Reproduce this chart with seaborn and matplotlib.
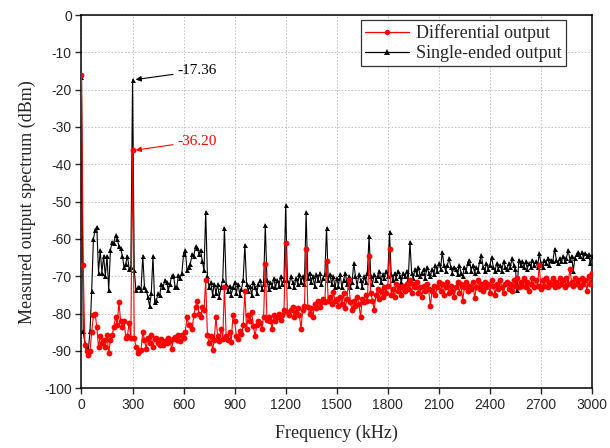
"""Measured output spectrum: differential vs single-ended output."""
import matplotlib
matplotlib.use("Agg")
import matplotlib.pyplot as plt
from matplotlib.lines import Line2D
import numpy as np
import pandas as pd
import seaborn as sns

# frequency grid, kHz (10 kHz bins)
freq_khz = np.arange(0, 3001, 10)

# Single-ended output (dBm), one row per 100 kHz
single_ended = [
    -16.5, -84.7, -88.0, -89.0, -90.0, -84.7, -74.0, -60.0, -57.6, -56.7,
    -69.0, -63.0, -69.0, -64.5, -70.0, -64.5, -73.7, -63.0, -60.8, -61.0,
    -59.0, -59.9, -62.0, -62.5, -64.5, -67.5, -66.6, -64.5, -68.0, -67.5,
    -17.36, -68.4, -73.7, -73.0, -72.8, -73.7, -64.5, -72.8, -73.7, -75.5,
    -78.0, -74.6, -64.5, -77.0, -76.4, -74.6, -75.0, -72.0, -72.8, -71.0,
    -71.5, -73.7, -72.0, -70.0, -69.6, -72.8, -72.8, -69.6, -70.4, -69.0,
    -64.0, -63.0, -68.4, -67.5, -66.6, -64.0, -64.5, -62.0, -62.5, -64.0,
    -63.0, -66.0, -68.4, -52.7, -70.0, -73.0, -71.5, -75.0, -72.0, -74.5,
    -72.0, -75.5, -73.0, -71.0, -57.0, -72.0, -74.0, -72.5, -75.0, -73.0,
    -71.5, -74.5, -72.0, -75.0, -73.5, -71.0, -61.5, -72.0, -74.0, -72.5,
    -75.0, -71.5, -73.0, -74.5, -72.0, -71.0, -73.5, -72.0, -56.3, -71.0,
    -73.5, -71.5, -72.5, -70.5, -73.0, -71.0, -72.5, -70.0, -72.0, -71.0,
    -51.0, -71.0, -72.5, -70.0, -71.5, -73.0, -70.5, -72.0, -69.5, -71.5,
    -70.0, -72.0, -52.9, -70.5, -69.0, -71.5, -70.0, -72.5, -69.5, -71.0,
    -69.0, -72.0, -70.5, -69.5, -57.0, -71.0, -69.5, -72.0, -70.0, -73.0,
    -70.4, -72.5, -69.5, -73.0, -71.0, -69.0, -72.0, -70.0, -73.0, -71.5,
    -66.5, -70.0, -72.5, -69.5, -71.0, -73.0, -70.0, -71.5, -69.0, -59.2,
    -70.0, -72.0, -69.5, -71.0, -70.0, -68.5, -71.5, -69.5, -70.5, -68.5,
    -70.0, -58.0, -69.5, -71.0, -69.0, -70.5, -68.5, -70.0, -71.5, -69.0,
    -70.0, -68.5, -71.0, -60.8, -69.0, -70.5, -68.0, -69.5, -67.5, -70.0,
    -69.0, -68.0, -70.5, -67.5, -69.0, -70.0, -68.0, -69.5, -67.0, -68.5,
    -66.5, -68.0, -63.4, -67.0, -68.5, -67.0, -65.2, -67.5, -69.0, -67.5,
    -68.0, -69.5, -67.0, -69.0, -70.0, -67.5, -68.5, -66.5, -65.6, -68.5,
    -67.0, -69.0, -67.5, -68.5, -66.0, -64.3, -67.5, -68.5, -66.5, -68.0,
    -67.0, -64.8, -67.5, -68.5, -66.5, -68.0, -67.0, -68.5, -66.0, -67.5,
    -68.0, -66.5, -67.5, -65.2, -67.0, -68.0, -73.8, -65.5, -67.0, -66.0,
    -67.5, -66.0, -68.0, -66.5, -67.5, -65.5, -67.0, -66.0, -67.5, -63.8,
    -66.5, -67.5, -65.5, -66.5, -65.0, -67.0, -65.5, -66.0, -62.6, -65.5,
    -66.5, -65.0, -66.0, -64.5, -66.0, -65.0, -63.0, -65.5, -64.5, -68.5,
    -65.0, -64.0, -63.4, -64.5, -63.5, -65.0, -63.8, -64.5, -64.0, -66.5,
    -64.5,
]

# Differential output (dBm), one row per 100 kHz
differential = [
    -16.0, -67.0, -88.5, -90.0, -91.0, -90.0, -85.0, -80.4, -80.0, -83.6,
    -89.0, -86.0, -88.0, -87.0, -89.0, -85.8, -90.6, -87.0, -85.8, -83.6,
    -80.9, -83.0, -76.9, -82.0, -83.6, -82.0, -86.4, -86.0, -82.4, -86.5,
    -36.2, -86.4, -89.0, -90.6, -90.0, -89.7, -85.0, -87.0, -89.5, -86.4,
    -88.0, -85.8, -89.0, -86.8, -86.4, -88.0, -88.5, -86.8, -88.5, -87.4,
    -88.0, -86.4, -87.4, -89.5, -86.8, -86.2, -87.0, -85.8, -87.4, -85.8,
    -86.4, -84.8, -81.0, -83.0, -83.0, -84.0, -80.4, -78.2, -76.6, -80.0,
    -81.0, -78.2, -79.0, -71.0, -85.8, -88.0, -86.0, -89.8, -87.0, -81.0,
    -86.0, -87.4, -84.0, -86.8, -72.8, -86.0, -87.0, -85.0, -87.5, -80.4,
    -81.9, -86.0, -86.8, -84.6, -85.5, -83.0, -74.0, -84.0, -80.4, -82.0,
    -79.6, -83.4, -86.0, -83.0, -82.0, -82.4, -84.0, -81.0, -66.8, -81.6,
    -81.0, -82.0, -84.0, -80.4, -82.0, -81.0, -80.0, -81.6, -80.4, -79.0,
    -61.0, -79.6, -80.4, -79.0, -78.2, -81.0, -79.6, -78.6, -80.4, -84.0,
    -79.0, -78.0, -62.6, -78.2, -80.0, -78.6, -81.0, -77.3, -78.6, -76.6,
    -78.2, -77.0, -76.2, -77.0, -66.0, -76.6, -75.5, -77.5, -74.2, -76.5,
    -76.0, -78.0, -75.5, -77.5, -74.5, -78.5, -76.0, -71.0, -77.0, -79.0,
    -76.5, -78.0, -75.5, -77.5, -80.9, -76.0, -77.0, -75.0, -76.5, -64.6,
    -74.5, -76.5, -79.0, -75.0, -73.5, -76.0, -74.0, -75.5, -73.0, -74.5,
    -72.5, -62.8, -75.0, -73.5, -75.5, -72.0, -74.0, -73.0, -75.0, -72.5,
    -74.0, -72.0, -73.5, -71.0, -74.5, -72.0, -73.0, -71.5, -74.5, -73.0,
    -75.5, -72.5, -74.0, -72.0, -73.5, -78.0, -74.0, -72.5, -75.0, -73.0,
    -71.5, -74.0, -72.0, -75.0, -73.0, -71.5, -74.5, -72.5, -74.0, -75.5,
    -73.0, -71.5, -74.5, -72.0, -76.7, -73.0, -71.5, -74.0, -72.5, -73.5,
    -71.5, -75.8, -73.0, -71.0, -73.5, -72.0, -74.0, -71.5, -73.0, -72.0,
    -74.5, -71.0, -72.5, -75.0, -72.0, -73.5, -71.0, -73.0, -74.5, -72.0,
    -71.5, -73.5, -72.0, -74.0, -71.0, -72.5, -70.5, -73.0, -71.5, -72.5,
    -70.5, -73.0, -71.5, -74.0, -72.0, -70.5, -73.0, -71.0, -72.5, -67.0,
    -73.5, -71.0, -72.5, -70.5, -73.0, -71.5, -72.0, -70.5, -73.0, -71.5,
    -72.5, -70.5, -72.0, -71.0, -73.0, -70.5, -72.0, -68.0, -71.5, -72.5,
    -70.5, -72.0, -71.0, -73.0, -70.5, -72.0, -71.0, -74.0, -70.0, -72.0,
    -69.0,
]

SERIES = ["Differential output", "Single-ended output"]
COLORS = {"Differential output": "#FF0000", "Single-ended output": "#000000"}
MARKERS = {"Differential output": "o", "Single-ended output": "^"}

sns.set_style("ticks")
plt.rcParams.update({"font.size": 10, "axes.unicode_minus": False})
plt.rcParams["font.family"] = ["Liberation Sans", "DejaVu Sans"]
SERIF = ["Liberation Serif", "DejaVu Serif"]

df = pd.concat(
    [
        pd.DataFrame({"freq": freq_khz, "dbm": single_ended, "series": SERIES[1]}),
        pd.DataFrame({"freq": freq_khz, "dbm": differential, "series": SERIES[0]}),
    ],
    ignore_index=True,
)

fig = plt.figure(figsize=(6.1, 4.48), dpi=100)
ax = fig.add_axes([0.1336, 0.1333, 0.8369, 0.8332])

# black first so the red trace sits on top
for name, ms in [(SERIES[1], 3.6), (SERIES[0], 4.2)]:
    sns.lineplot(
        data=df[df["series"] == name],
        x="freq",
        y="dbm",
        color=COLORS[name],
        marker=MARKERS[name],
        markersize=ms,
        markeredgewidth=0,
        linewidth=0.8,
        ax=ax,
        legend=False,
        zorder=3,
    )

ax.set_xlim(0, 3000)
ax.set_ylim(-100, 0)
ax.set_xticks(np.arange(0, 3001, 300))
ax.set_yticks(np.arange(-100, 1, 10))
ax.grid(True, color="#bdbdbd", linestyle=(0, (2, 2)), linewidth=0.6, zorder=0)
ax.set_axisbelow(True)
ax.tick_params(direction="out", length=4, width=1.0, labelsize=10, pad=3)
for sp in ax.spines.values():
    sp.set_linewidth(1.1)
    sp.set_color("black")

ax.set_xlabel("Frequency (kHz)", family=SERIF, fontsize=13, labelpad=9)
ax.set_ylabel("Measured output spectrum (dBm)", family=SERIF, fontsize=13, labelpad=6)

ax.annotate(
    "-17.36", xy=(318, -17.3), xytext=(565, -15.0),
    family=SERIF, fontsize=11, color="black", ha="left", va="center",
    arrowprops=dict(arrowstyle="-|>", color="black", lw=0.8, mutation_scale=8, shrinkA=1, shrinkB=0),
)
ax.annotate(
    "-36.20", xy=(318, -36.2), xytext=(565, -33.8),
    family=SERIF, fontsize=11, color="#FF0000", ha="left", va="center",
    arrowprops=dict(arrowstyle="-|>", color="#FF0000", lw=0.8, mutation_scale=8, shrinkA=1, shrinkB=0),
)

handles = [
    Line2D([], [], color=COLORS[s], marker=MARKERS[s], markersize=3.8, markeredgewidth=0, linewidth=0.9)
    for s in SERIES
]
leg = ax.legend(
    handles, SERIES, loc="upper right", bbox_to_anchor=(0.949, 0.987), borderaxespad=0,
    prop={"family": SERIF, "size": 13}, frameon=True, fancybox=False, handlelength=2.4,
    handletextpad=0.4, borderpad=0.25, labelspacing=0.15,
)
leg.get_frame().set_edgecolor("black")
leg.get_frame().set_linewidth(0.9)

fig.savefig("out.png", dpi=100)
